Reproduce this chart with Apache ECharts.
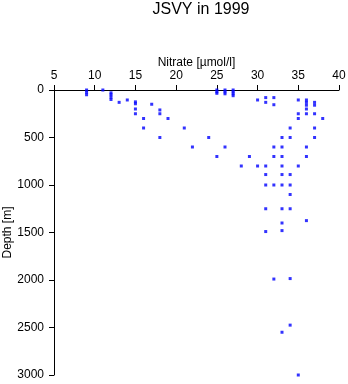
<!DOCTYPE html>
<html>
<head>
<meta charset="utf-8">
<script src="https://cdn.jsdelivr.net/npm/echarts@6/dist/echarts.min.js"></script>
<style>html,body{margin:0;padding:0;background:#fff;}#c{width:348px;height:384px;}</style>
</head>
<body>
<div id="c"></div>
<script>
const titleText = "JSVY in 1999";
const xName = "Nitrate [µmol/l]";
const yName = "Depth [m]";
const nitrate = [
  9, 9, 9,
  11,
  12, 12, 12, 12,
  13,
  14,
  15, 15, 15, 15,
  16, 16,
  17,
  18, 18, 18,
  19,
  21,
  22,
  24,
  25, 25, 25, 25,
  26, 26, 26, 26,
  27, 27, 27, 27,
  28,
  29,
  30, 30,
  31, 31, 31, 31, 31, 31, 31,
  32, 32, 32, 32, 32, 32,
  33, 33, 33, 33, 33, 33, 33, 33, 33, 33,
  34, 34, 34, 34, 34, 34, 34, 34,
  35, 35, 35, 35, 35,
  36, 36, 36, 36, 36, 36, 36, 36,
  37, 37, 37, 37, 37,
  38
];
const depth = [
  0, 25, 50,
  0,
  30, 50, 75, 100,
  130,
  105,
  125, 145, 200, 250,
  300, 400,
  150,
  210, 250, 500,
  300,
  400,
  600,
  500,
  0, 20, 35, 700,
  0, 20, 40, 600,
  0, 20, 40, 60,
  800,
  700,
  105, 800,
  80, 130, 800, 890, 1000, 1250, 1490,
  80, 155, 600, 700, 1000, 1990,
  500, 600, 700, 800, 890, 1000, 1250, 1400, 1480, 2550,
  400, 500, 890, 1000, 1100, 1250, 1985, 2475,
  105, 250, 300, 800, 3000,
  105, 130, 160, 200, 250, 600, 700, 1375,
  130, 160, 250, 400, 500,
  300
];
const points = nitrate.map((v, i) => [v, depth[i]]);
const font = "Liberation Sans, Arial, Helvetica, sans-serif";
const chart = echarts.init(document.getElementById('c'), null, {renderer: 'canvas'});
chart.setOption({
  animation: false,
  title: {
    text: titleText,
    left: 196, top: -3, textAlign: 'center',
    textStyle: {fontFamily: font, fontSize: 16, fontWeight: 'normal', color: '#000'}
  },
  grid: {left: 54, right: 9, top: 90, bottom: 9, containLabel: false, outerBoundsMode: 'none'},
  xAxis: {
    type: 'value', position: 'top', min: 5, max: 40, interval: 5,
    name: xName, nameLocation: 'middle', nameGap: 21, nameMoveOverlap: false,
    nameTextStyle: {fontFamily: font, fontSize: 12, color: '#000'},
    axisLine: {show: true, lineStyle: {color: '#000', width: 1}},
    axisTick: {show: true, length: 5, lineStyle: {color: '#000'}},
    axisLabel: {fontFamily: font, fontSize: 12, color: '#000', margin: 8},
    splitLine: {show: false}
  },
  yAxis: {
    type: 'value', inverse: true, min: 0, max: 3000, interval: 500,
    name: yName, nameLocation: 'middle', nameGap: 40, nameRotate: 90, nameMoveOverlap: false,
    nameTextStyle: {fontFamily: font, fontSize: 12, color: '#000'},
    axisLine: {show: true, lineStyle: {color: '#000', width: 1}},
    axisTick: {show: true, length: 5, lineStyle: {color: '#000'}},
    axisLabel: {fontFamily: font, fontSize: 12, color: '#000', margin: 10, formatter: v => String(v)},
    splitLine: {show: false}
  },
  series: [{
    type: 'scatter',
    data: points,
    symbol: 'rect',
    symbolSize: [3, 3],
    itemStyle: {color: '#0000ff'},
    clip: false
  }]
});
</script>
</body>
</html>
